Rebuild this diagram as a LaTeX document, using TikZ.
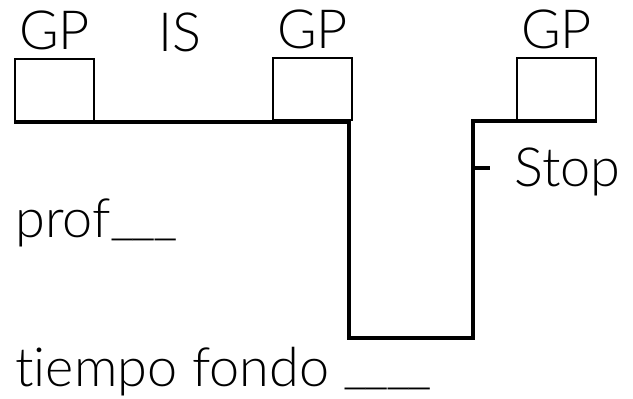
\documentclass[tikz,border=0pt]{standalone}
\usepackage{fontspec}
\setmainfont{Lato Light}[Ligatures=NoCommon]
\usetikzlibrary{positioning}

\newcommand\raya{\raisebox{2pt}{\_}\kern-1.6pt}

\tikzset{
  gasbox/.style={draw, line width=1pt, minimum width=39.5pt, minimum height=31pt, inner sep=0pt},
  lbl/.style={font=\fontsize{27}{30}\selectfont, inner sep=0pt},
  perfil/.style={line width=2pt}
}

\begin{document}
\begin{tikzpicture}[x=0.5pt,y=-0.5pt]
\useasboundingbox (0,0) rectangle (633,399);
% gas boxes
\node[gasbox, anchor=south west] (gp1) at (14,122) {};
\node[gasbox, anchor=south west] (gp2) at (272,121) {};
\node[gasbox, anchor=south west] (gp3) at (516,121) {};
\node[lbl, above=4pt of gp1] (tgp1) {GP};
\node[lbl, above=4pt of gp2] (tgp2) {GP};
\node[lbl, above=4pt of gp3] (tgp3) {GP};
\node[lbl, anchor=base] (tis) at (180,52) {IS};
% dive profile
\coordinate (d1) at (349,122);
\coordinate (d2) at (349,338);
\coordinate (d3) at (473,338);
\coordinate (d4) at (473,121);
\coordinate (stop) at (473,168);
\draw[perfil] (gp1.south west) -- (d1) -- (d2) -- (d3) -- (d4) -- (gp3.south east);
\draw[perfil] (stop) -- ++(17,0);
\node[lbl, anchor=base west] (tstop) at (514,187) {Stop};
\node[lbl, anchor=base west] (tprof) at (15,238) {prof\raya\raya\raya};
\node[lbl, anchor=base west] (tfondo) at (15,387) {tiempo fondo \raya\raya\raya\raya};
\end{tikzpicture}
\end{document}
